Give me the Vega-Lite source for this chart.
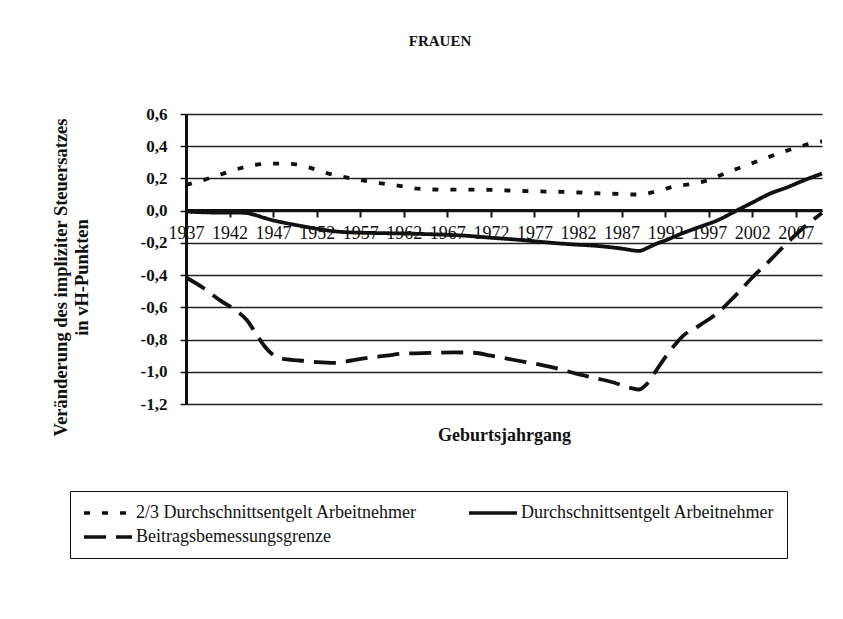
{
  "$schema": "https://vega.github.io/schema/vega-lite/v6.json",
  "width": 636,
  "height": 290,
  "autosize": "none",
  "padding": {"left": 186, "top": 114, "right": 21, "bottom": 215},
  "background": "white",
  "title": {"text": "FRAUEN", "font": "Liberation Serif", "fontSize": 15, "fontWeight": "bold", "color": "#111", "anchor": "middle", "dx": -64, "offset": 56},
  "config": {
    "view": {"stroke": null},
    "font": "Liberation Serif"
  },
  "data": {"values": [
    {"s": "2/3 Durchschnittsentgelt Arbeitnehmer", "year": 1937, "v": 0.16},
    {"s": "2/3 Durchschnittsentgelt Arbeitnehmer", "year": 1939, "v": 0.19},
    {"s": "2/3 Durchschnittsentgelt Arbeitnehmer", "year": 1941, "v": 0.225},
    {"s": "2/3 Durchschnittsentgelt Arbeitnehmer", "year": 1943, "v": 0.26},
    {"s": "2/3 Durchschnittsentgelt Arbeitnehmer", "year": 1945, "v": 0.285},
    {"s": "2/3 Durchschnittsentgelt Arbeitnehmer", "year": 1947, "v": 0.292},
    {"s": "2/3 Durchschnittsentgelt Arbeitnehmer", "year": 1949, "v": 0.29},
    {"s": "2/3 Durchschnittsentgelt Arbeitnehmer", "year": 1951, "v": 0.27},
    {"s": "2/3 Durchschnittsentgelt Arbeitnehmer", "year": 1953, "v": 0.235},
    {"s": "2/3 Durchschnittsentgelt Arbeitnehmer", "year": 1955, "v": 0.21},
    {"s": "2/3 Durchschnittsentgelt Arbeitnehmer", "year": 1957, "v": 0.19},
    {"s": "2/3 Durchschnittsentgelt Arbeitnehmer", "year": 1959, "v": 0.172},
    {"s": "2/3 Durchschnittsentgelt Arbeitnehmer", "year": 1961, "v": 0.158},
    {"s": "2/3 Durchschnittsentgelt Arbeitnehmer", "year": 1963, "v": 0.14},
    {"s": "2/3 Durchschnittsentgelt Arbeitnehmer", "year": 1965, "v": 0.132},
    {"s": "2/3 Durchschnittsentgelt Arbeitnehmer", "year": 1967, "v": 0.13},
    {"s": "2/3 Durchschnittsentgelt Arbeitnehmer", "year": 1969, "v": 0.13},
    {"s": "2/3 Durchschnittsentgelt Arbeitnehmer", "year": 1971, "v": 0.13},
    {"s": "2/3 Durchschnittsentgelt Arbeitnehmer", "year": 1973, "v": 0.127},
    {"s": "2/3 Durchschnittsentgelt Arbeitnehmer", "year": 1975, "v": 0.123},
    {"s": "2/3 Durchschnittsentgelt Arbeitnehmer", "year": 1977, "v": 0.12},
    {"s": "2/3 Durchschnittsentgelt Arbeitnehmer", "year": 1979, "v": 0.118},
    {"s": "2/3 Durchschnittsentgelt Arbeitnehmer", "year": 1981, "v": 0.116},
    {"s": "2/3 Durchschnittsentgelt Arbeitnehmer", "year": 1983, "v": 0.11},
    {"s": "2/3 Durchschnittsentgelt Arbeitnehmer", "year": 1985, "v": 0.106},
    {"s": "2/3 Durchschnittsentgelt Arbeitnehmer", "year": 1987, "v": 0.104},
    {"s": "2/3 Durchschnittsentgelt Arbeitnehmer", "year": 1989, "v": 0.1},
    {"s": "2/3 Durchschnittsentgelt Arbeitnehmer", "year": 1991, "v": 0.12},
    {"s": "2/3 Durchschnittsentgelt Arbeitnehmer", "year": 1993, "v": 0.15},
    {"s": "2/3 Durchschnittsentgelt Arbeitnehmer", "year": 1995, "v": 0.165},
    {"s": "2/3 Durchschnittsentgelt Arbeitnehmer", "year": 1997, "v": 0.19},
    {"s": "2/3 Durchschnittsentgelt Arbeitnehmer", "year": 1999, "v": 0.235},
    {"s": "2/3 Durchschnittsentgelt Arbeitnehmer", "year": 2001, "v": 0.275},
    {"s": "2/3 Durchschnittsentgelt Arbeitnehmer", "year": 2003, "v": 0.315},
    {"s": "2/3 Durchschnittsentgelt Arbeitnehmer", "year": 2005, "v": 0.355},
    {"s": "2/3 Durchschnittsentgelt Arbeitnehmer", "year": 2007, "v": 0.39},
    {"s": "2/3 Durchschnittsentgelt Arbeitnehmer", "year": 2009, "v": 0.42},
    {"s": "2/3 Durchschnittsentgelt Arbeitnehmer", "year": 2010, "v": 0.43},
    {"s": "Durchschnittsentgelt Arbeitnehmer", "year": 1937, "v": -0.005},
    {"s": "Durchschnittsentgelt Arbeitnehmer", "year": 1939, "v": -0.01},
    {"s": "Durchschnittsentgelt Arbeitnehmer", "year": 1941, "v": -0.012},
    {"s": "Durchschnittsentgelt Arbeitnehmer", "year": 1943, "v": -0.012},
    {"s": "Durchschnittsentgelt Arbeitnehmer", "year": 1944, "v": -0.015},
    {"s": "Durchschnittsentgelt Arbeitnehmer", "year": 1945, "v": -0.028},
    {"s": "Durchschnittsentgelt Arbeitnehmer", "year": 1946, "v": -0.045},
    {"s": "Durchschnittsentgelt Arbeitnehmer", "year": 1947, "v": -0.06},
    {"s": "Durchschnittsentgelt Arbeitnehmer", "year": 1948, "v": -0.072},
    {"s": "Durchschnittsentgelt Arbeitnehmer", "year": 1950, "v": -0.093},
    {"s": "Durchschnittsentgelt Arbeitnehmer", "year": 1952, "v": -0.112},
    {"s": "Durchschnittsentgelt Arbeitnehmer", "year": 1954, "v": -0.128},
    {"s": "Durchschnittsentgelt Arbeitnehmer", "year": 1956, "v": -0.135},
    {"s": "Durchschnittsentgelt Arbeitnehmer", "year": 1958, "v": -0.138},
    {"s": "Durchschnittsentgelt Arbeitnehmer", "year": 1960, "v": -0.14},
    {"s": "Durchschnittsentgelt Arbeitnehmer", "year": 1963, "v": -0.143},
    {"s": "Durchschnittsentgelt Arbeitnehmer", "year": 1966, "v": -0.148},
    {"s": "Durchschnittsentgelt Arbeitnehmer", "year": 1969, "v": -0.155},
    {"s": "Durchschnittsentgelt Arbeitnehmer", "year": 1972, "v": -0.168},
    {"s": "Durchschnittsentgelt Arbeitnehmer", "year": 1975, "v": -0.18},
    {"s": "Durchschnittsentgelt Arbeitnehmer", "year": 1978, "v": -0.195},
    {"s": "Durchschnittsentgelt Arbeitnehmer", "year": 1981, "v": -0.208},
    {"s": "Durchschnittsentgelt Arbeitnehmer", "year": 1984, "v": -0.218},
    {"s": "Durchschnittsentgelt Arbeitnehmer", "year": 1987, "v": -0.235},
    {"s": "Durchschnittsentgelt Arbeitnehmer", "year": 1989, "v": -0.25},
    {"s": "Durchschnittsentgelt Arbeitnehmer", "year": 1990, "v": -0.23},
    {"s": "Durchschnittsentgelt Arbeitnehmer", "year": 1991, "v": -0.205},
    {"s": "Durchschnittsentgelt Arbeitnehmer", "year": 1992, "v": -0.185},
    {"s": "Durchschnittsentgelt Arbeitnehmer", "year": 1994, "v": -0.14},
    {"s": "Durchschnittsentgelt Arbeitnehmer", "year": 1996, "v": -0.1},
    {"s": "Durchschnittsentgelt Arbeitnehmer", "year": 1998, "v": -0.06},
    {"s": "Durchschnittsentgelt Arbeitnehmer", "year": 2000, "v": -0.005},
    {"s": "Durchschnittsentgelt Arbeitnehmer", "year": 2002, "v": 0.05},
    {"s": "Durchschnittsentgelt Arbeitnehmer", "year": 2004, "v": 0.105},
    {"s": "Durchschnittsentgelt Arbeitnehmer", "year": 2006, "v": 0.145},
    {"s": "Durchschnittsentgelt Arbeitnehmer", "year": 2008, "v": 0.19},
    {"s": "Durchschnittsentgelt Arbeitnehmer", "year": 2010, "v": 0.23},
    {"s": "Beitragsbemessungsgrenze", "year": 1937, "v": -0.415},
    {"s": "Beitragsbemessungsgrenze", "year": 1939, "v": -0.48},
    {"s": "Beitragsbemessungsgrenze", "year": 1941, "v": -0.56},
    {"s": "Beitragsbemessungsgrenze", "year": 1943, "v": -0.63},
    {"s": "Beitragsbemessungsgrenze", "year": 1944, "v": -0.68},
    {"s": "Beitragsbemessungsgrenze", "year": 1945, "v": -0.76},
    {"s": "Beitragsbemessungsgrenze", "year": 1946, "v": -0.84},
    {"s": "Beitragsbemessungsgrenze", "year": 1947, "v": -0.895},
    {"s": "Beitragsbemessungsgrenze", "year": 1948, "v": -0.918},
    {"s": "Beitragsbemessungsgrenze", "year": 1950, "v": -0.93},
    {"s": "Beitragsbemessungsgrenze", "year": 1952, "v": -0.94},
    {"s": "Beitragsbemessungsgrenze", "year": 1954, "v": -0.945},
    {"s": "Beitragsbemessungsgrenze", "year": 1956, "v": -0.93},
    {"s": "Beitragsbemessungsgrenze", "year": 1958, "v": -0.912},
    {"s": "Beitragsbemessungsgrenze", "year": 1960, "v": -0.9},
    {"s": "Beitragsbemessungsgrenze", "year": 1962, "v": -0.887},
    {"s": "Beitragsbemessungsgrenze", "year": 1965, "v": -0.883},
    {"s": "Beitragsbemessungsgrenze", "year": 1968, "v": -0.88},
    {"s": "Beitragsbemessungsgrenze", "year": 1970, "v": -0.882},
    {"s": "Beitragsbemessungsgrenze", "year": 1972, "v": -0.9},
    {"s": "Beitragsbemessungsgrenze", "year": 1974, "v": -0.92},
    {"s": "Beitragsbemessungsgrenze", "year": 1976, "v": -0.94},
    {"s": "Beitragsbemessungsgrenze", "year": 1978, "v": -0.96},
    {"s": "Beitragsbemessungsgrenze", "year": 1980, "v": -0.985},
    {"s": "Beitragsbemessungsgrenze", "year": 1982, "v": -1.015},
    {"s": "Beitragsbemessungsgrenze", "year": 1984, "v": -1.04},
    {"s": "Beitragsbemessungsgrenze", "year": 1986, "v": -1.065},
    {"s": "Beitragsbemessungsgrenze", "year": 1988, "v": -1.1},
    {"s": "Beitragsbemessungsgrenze", "year": 1989, "v": -1.11},
    {"s": "Beitragsbemessungsgrenze", "year": 1990, "v": -1.07},
    {"s": "Beitragsbemessungsgrenze", "year": 1991, "v": -0.99},
    {"s": "Beitragsbemessungsgrenze", "year": 1992, "v": -0.91},
    {"s": "Beitragsbemessungsgrenze", "year": 1993, "v": -0.84},
    {"s": "Beitragsbemessungsgrenze", "year": 1994, "v": -0.78},
    {"s": "Beitragsbemessungsgrenze", "year": 1996, "v": -0.71},
    {"s": "Beitragsbemessungsgrenze", "year": 1998, "v": -0.635},
    {"s": "Beitragsbemessungsgrenze", "year": 2000, "v": -0.53},
    {"s": "Beitragsbemessungsgrenze", "year": 2002, "v": -0.415},
    {"s": "Beitragsbemessungsgrenze", "year": 2004, "v": -0.31},
    {"s": "Beitragsbemessungsgrenze", "year": 2006, "v": -0.2},
    {"s": "Beitragsbemessungsgrenze", "year": 2008, "v": -0.1},
    {"s": "Beitragsbemessungsgrenze", "year": 2010, "v": -0.015}
  ]},
  "mark": {"type": "line", "interpolate": "monotone", "color": "#111", "strokeWidth": 3.8, "strokeCap": "butt"},
  "encoding": {
    "x": {
      "field": "year", "type": "quantitative",
      "scale": {"domain": [1937, 2010], "nice": false, "zero": false},
      "axis": {
        "title": "Geburtsjahrgang",
        "titleFont": "Liberation Serif", "titleFontSize": 18, "titleFontWeight": "bold", "titleColor": "#111",
        "titleY": 225, "titleBaseline": "middle",
        "offset": -194,
        "values": [1937, 1942, 1947, 1952, 1957, 1962, 1967, 1972, 1977, 1982, 1987, 1992, 1997, 2002, 2007],
        "format": "d",
        "labelFont": "Liberation Serif", "labelFontSize": 18, "labelColor": "#111",
        "labelPadding": 7, "labelOverlap": false, "labelFlush": false, "labelBound": false,
        "tickSize": 7, "tickColor": "#111", "tickWidth": 2,
        "domainColor": "#111", "domainWidth": 3,
        "grid": false
      }
    },
    "y": {
      "field": "v", "type": "quantitative",
      "scale": {"domain": [-1.2, 0.6], "nice": false, "zero": false},
      "axis": {
        "title": ["Veränderung des impliziter Steuersatzes", "in vH-Punkten"],
        "titleFont": "Liberation Serif", "titleFontSize": 18.5, "titleFontWeight": "bold", "titleColor": "#111",
        "titleLineHeight": 21, "titleX": -126, "titleY": 163, "titleBaseline": "middle", "titleAngle": 270,
        "values": [-1.2, -1, -0.8, -0.6, -0.4, -0.2, 0, 0.2, 0.4, 0.6],
        "labelExpr": "replace(replace(format(datum.value, '.1f'), '.', ','), '−', '-')",
        "labelFont": "Liberation Serif", "labelFontSize": 17, "labelFontWeight": "bold", "labelColor": "#111",
        "labelPadding": 13,
        "tickSize": 6, "tickColor": "#111", "tickWidth": 1.5,
        "domainColor": "#111", "domainWidth": 3,
        "grid": true, "gridColor": "#222", "gridWidth": 1.3
      }
    },
    "strokeDash": {
      "field": "s", "type": "nominal",
      "scale": {
        "domain": ["2/3 Durchschnittsentgelt Arbeitnehmer", "Durchschnittsentgelt Arbeitnehmer", "Beitragsbemessungsgrenze"],
        "range": [[6, 12], [1, 0], [22, 10]]
      },
      "legend": {
        "title": null,
        "orient": "none", "legendX": -116, "legendY": 377,
        "direction": "horizontal", "columns": 2,
        "columnPadding": 45, "rowPadding": 5,
        "padding": 12, "strokeColor": "#111",
        "symbolType": "M-1,0H5", "symbolSize": 256, "symbolStrokeWidth": 3.5, "symbolStrokeColor": "#111", "symbolFillColor": "transparent",
        "labelOffset": 34, "labelFont": "Liberation Serif", "labelFontSize": 18, "labelColor": "#111", "labelLimit": 400
      }
    }
  }
}
